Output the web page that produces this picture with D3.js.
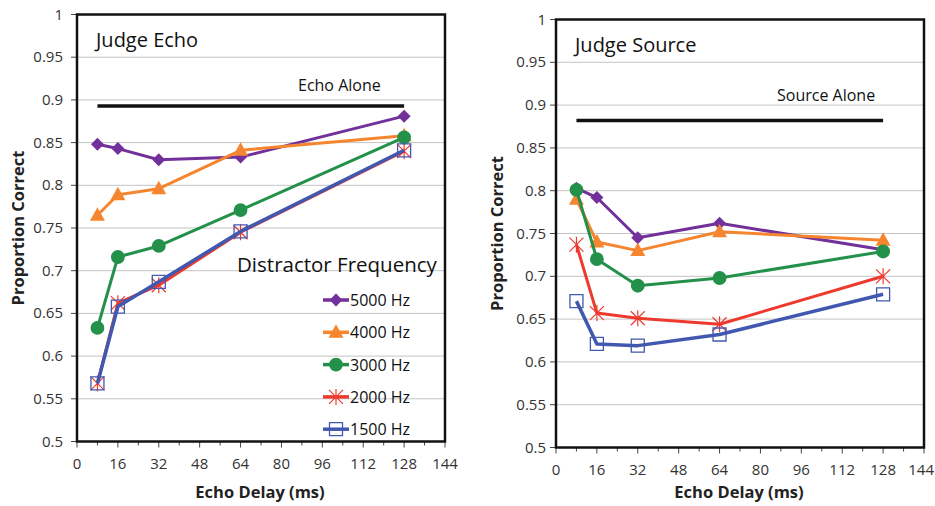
<!DOCTYPE html>
<html>
<head>
<meta charset="utf-8">
<script src="https://cdn.jsdelivr.net/npm/d3@7"></script>
<style>
  html, body { margin: 0; padding: 0; background: #fff; }
  svg { display: block; font-family: "Open Sans", Lato, sans-serif; }
  .tick-label { font-size: 15px; fill: #333; }
  .axis-title { font-size: 16.5px; font-weight: bold; fill: #222; }
  .panel-title { font-size: 20px; fill: #111; }
  .alone-label { font-size: 16px; fill: #111; }
  .legend-title { font-size: 20.5px; fill: #111; }
  .legend-label { font-size: 16px; fill: #111; }
</style>
</head>
<body>
<svg id="chart" width="935" height="506"></svg>
<script>
  // Echo delays (ms) used on the x axis for every series.
  const DELAYS = [8, 16, 32, 64, 128];
  const FREQUENCIES = ['5000 Hz', '4000 Hz', '3000 Hz', '2000 Hz', '1500 Hz'];

  // Judge Echo panel
  const ECHO_5000 = [0.848, 0.843, 0.830, 0.833, 0.881];
  const ECHO_4000 = [0.765, 0.789, 0.796, 0.841, 0.858];
  const ECHO_3000 = [0.633, 0.716, 0.729, 0.771, 0.856];
  const ECHO_2000 = [0.568, 0.662, 0.683, 0.745, 0.840];
  const ECHO_1500 = [0.568, 0.658, 0.687, 0.746, 0.841];
  const ECHO_ALONE = 0.893;

  // Judge Source panel
  const SOURCE_5000 = [0.803, 0.792, 0.745, 0.762, 0.731];
  const SOURCE_4000 = [0.790, 0.740, 0.730, 0.752, 0.742];
  const SOURCE_3000 = [0.801, 0.720, 0.689, 0.698, 0.729];
  const SOURCE_2000 = [0.737, 0.657, 0.651, 0.644, 0.700];
  const SOURCE_1500 = [0.671, 0.621, 0.619, 0.632, 0.679];
  const SOURCE_ALONE = 0.882;

  const X_TICKS = [0, 16, 32, 48, 64, 80, 96, 112, 128, 144];
  const X_MINOR = [8, 24, 40, 56, 72, 88, 104, 120, 136];
  const Y_TICKS = [0.5, 0.55, 0.6, 0.65, 0.7, 0.75, 0.8, 0.85, 0.9, 0.95, 1];

  const STYLES = [
    { color: '#71309a', marker: 'diamond' },
    { color: '#f5862f', marker: 'triangle' },
    { color: '#23914a', marker: 'circle' },
    { color: '#ee3a2e', marker: 'star' },
    { color: '#4158b0', marker: 'square' }
  ];

  const SVG_W = 935;
  const svg = d3.select('#chart');

  function markerPath(kind) {
    switch (kind) {
      case 'diamond': return 'M0,-6.5L6.5,0L0,6.5L-6.5,0Z';
      case 'triangle': return 'M0,-8L7.5,5.5L-7.5,5.5Z';
      case 'circle': return d3.symbol(d3.symbolCircle, 150)();
      case 'star': return 'M0,-8V8M-7,-7L7,7M-7,7L7,-7';
      case 'square': return 'M-6.5,-6.5H6.5V6.5H-6.5Z';
    }
  }

  function drawMarker(g, kind, color, x, y) {
    const p = g.append('path')
      .attr('d', markerPath(kind))
      .attr('transform', `translate(${x},${y})`);
    if (kind === 'star') {
      p.attr('fill', 'none').attr('stroke', color).attr('stroke-width', 1.2);
    } else if (kind === 'square') {
      p.attr('fill', 'none').attr('stroke', color).attr('stroke-width', 1.3);
    } else {
      p.attr('fill', color).attr('stroke', 'none');
    }
  }

  function drawPanel(opts) {
    const x = d3.scaleLinear().domain([0, 144]).range([opts.left, opts.right]);
    const y = d3.scaleLinear().domain([0.5, 1]).range([opts.bottom, opts.top]);
    const g = svg.append('g');

    // gridlines
    g.selectAll('.grid').data(Y_TICKS.slice(1, -1)).enter().append('line')
      .attr('x1', opts.left).attr('x2', opts.right)
      .attr('y1', d => y(d)).attr('y2', d => y(d))
      .attr('stroke', '#c4c4c4').attr('stroke-width', 1);

    // y ticks + labels
    g.selectAll('.ytick').data(Y_TICKS).enter().append('line')
      .attr('x1', opts.left - 6).attr('x2', opts.left)
      .attr('y1', d => y(d)).attr('y2', d => y(d))
      .attr('stroke', '#444').attr('stroke-width', 1);
    g.selectAll('.ylab').data(Y_TICKS).enter().append('text')
      .attr('class', 'tick-label')
      .attr('x', opts.left - opts.labelGap).attr('y', d => y(d) + 5)
      .attr('text-anchor', 'end')
      .text(d => String(+d.toFixed(2)));

    // x ticks + labels
    g.selectAll('.xtick').data(X_TICKS).enter().append('line')
      .attr('x1', d => x(d)).attr('x2', d => x(d))
      .attr('y1', opts.bottom).attr('y2', opts.bottom + 6)
      .attr('stroke', '#444').attr('stroke-width', 1);
    g.selectAll('.xminor').data(X_MINOR).enter().append('line')
      .attr('x1', d => x(d)).attr('x2', d => x(d))
      .attr('y1', opts.bottom).attr('y2', opts.bottom + 4)
      .attr('stroke', '#444').attr('stroke-width', 1);
    g.selectAll('.xlab').data(X_TICKS).enter().append('text')
      .attr('class', 'tick-label')
      .attr('x', d => x(d)).attr('y', opts.bottom + 27)
      .attr('text-anchor', 'middle')
      .text(d => d)
      .each(function () {
        // keep the last label inside the picture
        const box = this.getBBox();
        if (box.x + box.width > SVG_W - 1) {
          d3.select(this).attr('text-anchor', 'end').attr('x', SVG_W - 1);
        }
      });

    // axis titles
    g.append('text').attr('class', 'axis-title')
      .attr('x', (opts.left + opts.right) / 2 - 1).attr('y', 498)
      .attr('text-anchor', 'middle')
      .text('Echo Delay (ms)');
    g.append('text').attr('class', 'axis-title')
      .attr('transform', `translate(${opts.left - 53},${(opts.top + opts.bottom) / 2}) rotate(-90)`)
      .attr('text-anchor', 'middle')
      .text('Proportion Correct');

    // baseline ("alone") line
    g.append('line')
      .attr('x1', x(DELAYS[0])).attr('x2', x(DELAYS[DELAYS.length - 1]))
      .attr('y1', y(opts.alone)).attr('y2', y(opts.alone))
      .attr('stroke', '#111').attr('stroke-width', 3.5);
    g.append('text').attr('class', 'alone-label')
      .attr('x', opts.aloneLabelX).attr('y', y(opts.alone) - opts.aloneLabelDy)
      .text(opts.aloneLabel);

    g.append('text').attr('class', 'panel-title')
      .attr('x', opts.left + 19).attr('y', opts.top + 32)
      .text(opts.title);

    // series
    const line = d3.line().x(d => x(d[0])).y(d => y(d[1]));
    opts.series.forEach((vals, i) => {
      const st = STYLES[i];
      const pts = DELAYS.map((d, j) => [d, vals[j]]);
      g.append('path')
        .attr('d', line(pts))
        .attr('fill', 'none')
        .attr('stroke', st.color)
        .attr('stroke-width', i === 4 ? 3.5 : 3)
        .attr('stroke-linejoin', 'round');
      pts.forEach(p => drawMarker(g, st.marker, st.color, x(p[0]), y(p[1])));
    });

    // frame
    g.append('rect')
      .attr('x', opts.left).attr('y', opts.top)
      .attr('width', opts.right - opts.left).attr('height', opts.bottom - opts.top)
      .attr('fill', 'none').attr('stroke', '#111').attr('stroke-width', 2.5);

    return g;
  }

  const left = drawPanel({
    left: 77, right: 445, top: 14.5, bottom: 441.5, labelGap: 14,
    title: 'Judge Echo', alone: ECHO_ALONE, aloneLabel: 'Echo Alone',
    aloneLabelX: 298, aloneLabelDy: 15,
    series: [ECHO_5000, ECHO_4000, ECHO_3000, ECHO_2000, ECHO_1500]
  });

  drawPanel({
    left: 556, right: 924, top: 19.5, bottom: 447.5, labelGap: 10,
    title: 'Judge Source', alone: SOURCE_ALONE, aloneLabel: 'Source Alone',
    aloneLabelX: 777, aloneLabelDy: 20,
    series: [SOURCE_5000, SOURCE_4000, SOURCE_3000, SOURCE_2000, SOURCE_1500]
  });

  // legend inside the left panel
  left.append('text').attr('class', 'legend-title')
    .attr('x', 237).attr('y', 272)
    .text('Distractor Frequency');
  FREQUENCIES.forEach((label, i) => {
    const st = STYLES[i];
    const cy = 300 + i * 32.3;
    left.append('line')
      .attr('x1', 323).attr('x2', 349)
      .attr('y1', cy).attr('y2', cy)
      .attr('stroke', st.color).attr('stroke-width', 3.5);
    drawMarker(left, st.marker, st.color, 336, cy);
    left.append('text').attr('class', 'legend-label')
      .attr('x', 350).attr('y', cy + 6)
      .text(label);
  });
</script>
</body>
</html>
